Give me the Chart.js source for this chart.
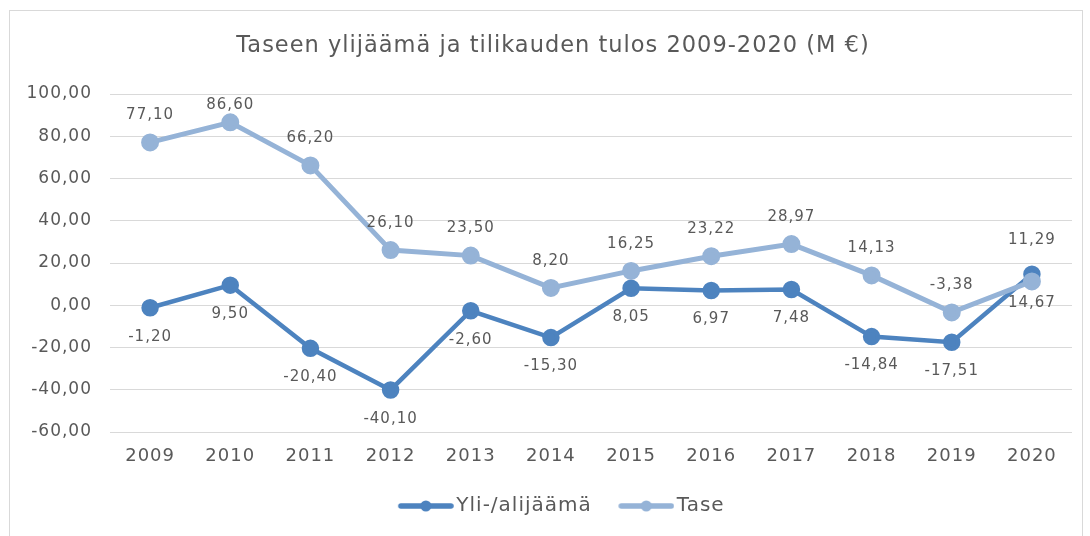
<!DOCTYPE html>
<html>
<head>
<meta charset="utf-8">
<script src="https://cdn.jsdelivr.net/npm/chart.js@4"></script>
<style>
  html, body { margin: 0; padding: 0; background: #fff; }
  #wrap { width: 1090px; height: 536px; }
</style>
</head>
<body>
<div id="wrap"><canvas id="chart" width="1090" height="536"></canvas></div>
<script>
// Data
const years = ['2009', '2010', '2011', '2012', '2013', '2014', '2015', '2016', '2017', '2018', '2019', '2020'];
const yliAlijaama = [-1.20, 9.50, -20.40, -40.10, -2.60, -15.30, 8.05, 6.97, 7.48, -14.84, -17.51, 14.67];
const tase = [77.10, 86.60, 66.20, 26.10, 23.50, 8.20, 16.25, 23.22, 28.97, 14.13, -3.38, 11.29];

const darkBlue = '#4d83bf';
const lightBlue = '#95b3d7';
const textGray = '#595959';
const fontFamily = '"DejaVu Sans", Verdana, sans-serif';

const fmt = v => v.toFixed(2).replace('.', ',');

// legend symbol: line with a dot, drawn on the right part of the image
function legendIcon(color) {
    const c = document.createElement('canvas');
    c.width = 80; c.height = 14;
    const g = c.getContext('2d');
    g.strokeStyle = color;
    g.lineWidth = 5.5;
    g.lineCap = 'round';
    g.beginPath();
    g.moveTo(27, 7); g.lineTo(77, 7);
    g.stroke();
    g.fillStyle = color;
    g.beginPath();
    g.arc(52, 7, 5.5, 0, Math.PI * 2);
    g.fill();
    return c;
}

// the reference text is a bit spaced out; canvas resets on resize so set it per pass
const spacing = {
    id: 'spacing',
    beforeUpdate(chart) { chart.ctx.letterSpacing = '1px'; },
    beforeLayout(chart) { chart.ctx.letterSpacing = '1px'; },
    beforeDraw(chart) { chart.ctx.letterSpacing = '1px'; }
};

// value labels (above for Tase, below for Yli-/alijäämä)
const valueLabels = {
    id: 'valueLabels',
    afterDatasetsDraw(chart) {
        const ctx = chart.ctx;
        const area = chart.chartArea;
        ctx.save();
        ctx.font = '15px ' + fontFamily;
        ctx.fillStyle = textGray;
        ctx.textAlign = 'center';
        ctx.textBaseline = 'middle';
        chart.data.datasets.forEach((ds, i) => {
            const meta = chart.getDatasetMeta(i);
            meta.data.forEach((pt, j) => {
                let y = pt.y + ds.labelOffset + ((ds.labelShift && ds.labelShift[j]) || 0);
                y = Math.max(y, area.top + 11);
                ctx.fillText(fmt(ds.data[j]), pt.x, y);
            });
        });
        ctx.restore();
    }
};

// light gray frame around the whole chart
const frame = {
    id: 'frame',
    beforeDraw(chart) {
        const ctx = chart.ctx;
        ctx.save();
        ctx.strokeStyle = '#d9d9d9';
        ctx.lineWidth = 1;
        ctx.strokeRect(9.5, 10.5, 1073, 540);
        ctx.restore();
    }
};

new Chart(document.getElementById('chart').getContext('2d'), {
    type: 'line',
    data: {
        labels: years,
        datasets: [{
            label: 'Tase',
            data: tase,
            borderColor: lightBlue,
            backgroundColor: lightBlue,
            borderWidth: 5,
            pointRadius: 6.5,
            pointHoverRadius: 6.5,
            labelOffset: -27,
            labelShift: [0, 0, 0, 0, 0, 0, 0, 0, 0, 0, 0, -14],
            tension: 0
        }, {
            label: 'Yli-/alijäämä',
            data: yliAlijaama,
            borderColor: darkBlue,
            backgroundColor: darkBlue,
            borderWidth: 4.5,
            pointRadius: 6.5,
            pointHoverRadius: 6.5,
            labelOffset: 29,
            tension: 0
        }]
    },
    options: {
        responsive: false,
        animation: false,
        layout: { padding: { left: 34, right: 18, top: 0, bottom: 10 } },
        plugins: {
            title: {
                display: true,
                text: 'Taseen ylijäämä ja tilikauden tulos 2009-2020 (M €)',
                color: textGray,
                font: { family: fontFamily, size: 22.5, weight: 'normal' },
                padding: { top: 33, bottom: 34 }
            },
            legend: {
                position: 'bottom',
                reverse: true,
                labels: {
                    color: textGray,
                    font: { family: fontFamily, size: 20 },
                    usePointStyle: true,
                    pointStyleWidth: 65,
                    padding: 10,
                    generateLabels(chart) {
                        return chart.data.datasets.map((ds, i) => ({
                            text: ds.label,
                            fontColor: textGray,
                            pointStyle: legendIcon(ds.borderColor),
                            lineWidth: 0,
                            strokeStyle: 'transparent',
                            fillStyle: ds.borderColor,
                            datasetIndex: i,
                            hidden: false
                        }));
                    }
                }
            },
            tooltip: { enabled: false }
        },
        scales: {
            x: {
                offset: true,
                grid: { display: false, drawTicks: false },
                border: { display: false },
                ticks: {
                    color: textGray,
                    font: { family: fontFamily, size: 18 },
                    padding: 14,
                    maxRotation: 0
                },
                afterFit(scale) { scale.height = 54; }
            },
            y: {
                min: -60,
                max: 100,
                grid: { color: '#d9d9d9', lineWidth: 1, drawTicks: false },
                border: { display: false },
                ticks: {
                    stepSize: 20,
                    color: textGray,
                    font: { family: fontFamily, size: 17 },
                    padding: 18,
                    callback: v => fmt(v)
                },
                afterFit(scale) {
                    scale.width = 76;
                    // labels are a bit wider than the axis box, don't clip them
                    scale._computeLabelArea = () => undefined;
                }
            }
        }
    },
    plugins: [spacing, frame, valueLabels]
});
</script>
</body>
</html>
